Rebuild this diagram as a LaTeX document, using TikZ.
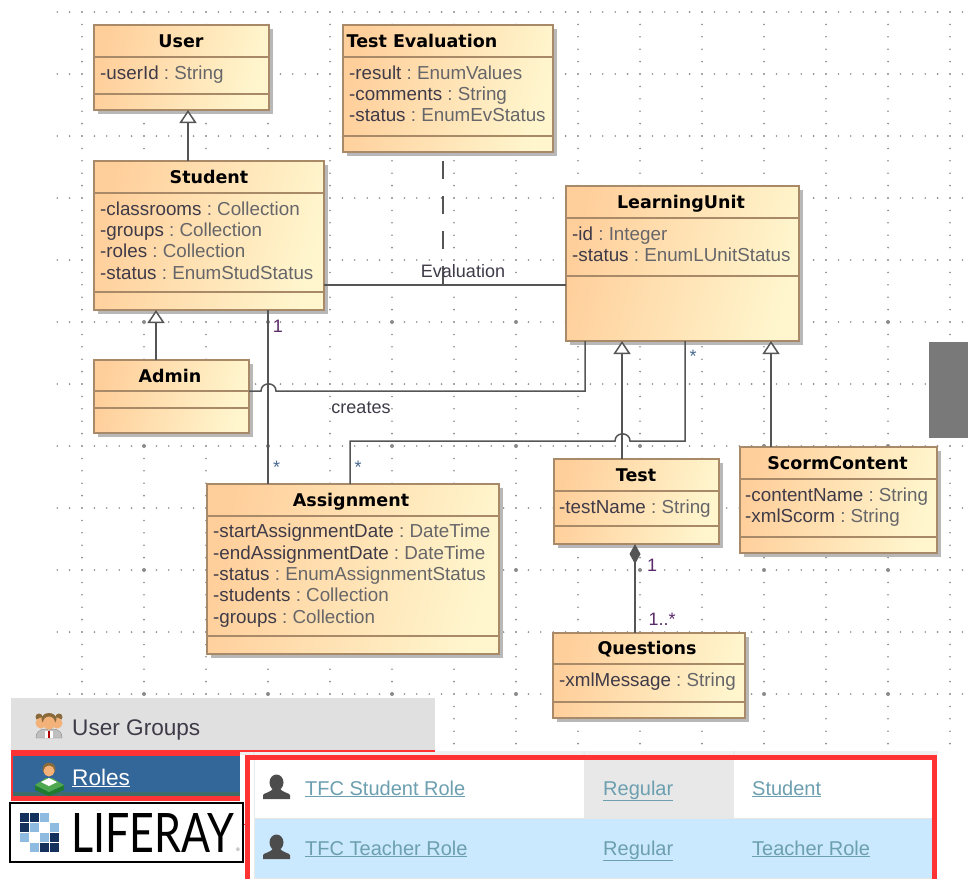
\documentclass[tikz,border=0pt]{standalone}
\usepackage{fontspec}
\usepackage{graphicx}
\setmainfont{Liberation Sans}
\newfontfamily\titlefont{DejaVu Sans Bold}
\newfontfamily\logofont{Lato}
\usetikzlibrary{arrows.meta,shadows,calc}
\definecolor{gradL}{HTML}{FFCF9B}
\definecolor{gradR}{HTML}{FFF6CE}
\definecolor{boxline}{HTML}{A98A68}
\definecolor{shadowc}{HTML}{B8B8B8}
\definecolor{linec}{HTML}{555555}
\definecolor{dotc}{HTML}{8A8A8A}
\definecolor{namec}{HTML}{3E3A48}
\definecolor{typec}{HTML}{66666A}
\definecolor{linkc}{HTML}{6C9FB0}
\definecolor{redf}{HTML}{FF3333}
\definecolor{bluerow}{HTML}{CAE9FF}
\definecolor{rolesblue}{HTML}{336699}
\definecolor{rolesgreen}{HTML}{3F6B6B}
\definecolor{navy}{HTML}{14305C}
\definecolor{lblue}{HTML}{8FBBE0}
\definecolor{multc}{HTML}{5A2A6A}
\definecolor{starc}{HTML}{4A6A90}
\definecolor{skin}{HTML}{F2B27A}
\definecolor{hair}{HTML}{8A6A3A}
\definecolor{deskg}{HTML}{4FA84F}
\definecolor{deskd}{HTML}{1F7A2F}
\tikzset{
  x=1pt,y=-1pt,
  umlbox/.style={draw=boxline,line width=1.8pt,inner sep=0pt,outer sep=0pt,left color=gradL,right color=gradR,shading angle=76,
    drop shadow={shadow xshift=4pt,shadow yshift=-4pt,fill=shadowc,opacity=1}},
  titletext/.style={inner sep=0pt,font=\titlefont\fontsize{17.5}{20}\selectfont,text=black,anchor=base},
  attrtext/.style={inner sep=0pt,font=\fontsize{18.8}{20}\selectfont,anchor=base west,text=namec},
  lbl/.style={inner sep=0pt,font=\fontsize{18}{20}\selectfont,anchor=base,text=namec},
  multlbl/.style={lbl,text=multc},
  starlbl/.style={lbl,text=starc},
  conn/.style={draw=linec,line width=1.5pt},
  gener/.style={conn,-{Triangle[open,length=13pt,width=17pt,line width=1.5pt,fill=white]}},
  comp/.style={conn,{Diamond[length=20pt,width=11pt,fill=linec]}-},
  linktext/.style={inner sep=0pt,font=\fontsize{20}{22}\selectfont,anchor=base west,text=linkc},
  paneltext/.style={inner sep=0pt,font=\fontsize{22.6}{24}\selectfont,anchor=base west},
  ppl/.style={fill=black!70}
}
\newcommand{\umlb}[7]{% name x1 y1 x2 y2 sep1 sep2
  \node[umlbox,minimum width=#4pt-#2pt,minimum height=#5pt-#3pt,anchor=north west] (#1) at (#2,#3) {};
  \draw[draw=boxline,line width=1.5pt] (#2,#6) -- (#4,#6) (#2,#7) -- (#4,#7);
}
\newcommand{\ttl}[4]{\node[titletext] (#1) at (#2,#3) {#4};}
\newcommand{\attr}[5]{\node[attrtext] (#1) at (#2,#3) {#4\textcolor{typec}{\ :\ #5}};}
\newcommand{\person}[2]{%
  \fill[ppl] (#1,#2-8.5) ellipse (7 and 8);
  \fill[ppl] (#1-13.5,#2+8) -- (#1-13.5,#2+4) .. controls (#1-13.5,#2+2) and (#1-6,#2+2) .. (#1-3,#2-3) -- (#1+3,#2-3) .. controls (#1+6,#2+2) and (#1+13.5,#2+2) .. (#1+13.5,#2+4) -- (#1+13.5,#2+8) -- cycle;
}
\begin{document}
\begin{tikzpicture}
\useasboundingbox (0,0) rectangle (968,879);
\fill[white] (0,0) rectangle (968,879);
% grid
\foreach \r in {12,74,136,198,260,322,384,446,508,570,632,694}{
  \foreach \i in {-27,...,46}{\fill[dotc] (392+12.4*\i,\r) circle (0.9);}
}
\foreach \c in {82,144,206,268,330,392,454,516,578,640,702,764,826,888,950}{
  \foreach \j in {-25,...,34}{\fill[dotc] (\c,322+12.4*\j) circle (0.9);}
}
\foreach \c in {144,268,392,516,640,764,888}{
  \foreach \r in {322,446,570,694}{\fill[dotc] (\c,\r) circle (2);}
}
% gray block
\fill[gray!95!black] (929,342) rectangle (968,438);
% boxes
\umlb{user}{94}{25}{269}{110}{57}{94}
\umlb{student}{94}{161}{324}{310}{193}{292}
\umlb{evalbox}{343}{25}{553}{152}{57}{136}
\umlb{lunit}{566}{186}{799}{341}{218}{276}
\umlb{admin}{94}{360}{249}{433}{391}{408}
\umlb{assign}{207}{484}{499}{654}{516}{636}
\umlb{test}{554}{459}{719}{544}{491}{526}
\umlb{scorm}{740}{447}{937}{553}{479}{537}
\umlb{quest}{553}{633}{745}{718}{664}{702}
\ttl{tUser}{181}{47}{User}
\ttl{tStudent}{209}{183}{Student}
\ttl{tEval}{422}{47}{Test Evaluation}
\ttl{tLU}{681}{208}{LearningUnit}
\ttl{tAdmin}{170}{382}{Admin}
\ttl{tAssign}{351}{506}{Assignment}
\ttl{tTest}{636}{481}{Test}
\ttl{tScorm}{837.5}{469}{ScormContent}
\ttl{tQuest}{647}{654}{Questions}
\attr{a1}{100}{79}{-userId}{String}
\attr{a2}{100}{215}{-classrooms}{Collection}
\attr{a3}{100}{236}{-groups}{Collection}
\attr{a4}{100}{257}{-roles}{Collection}
\attr{a5}{100}{279}{-status}{EnumStudStatus}
\attr{a6}{349}{79}{-result}{EnumValues}
\attr{a7}{349}{100}{-comments}{String}
\attr{a8}{349}{121}{-status}{EnumEvStatus}
\attr{a9}{572}{240}{-id}{Integer}
\attr{a10}{572}{261}{-status}{EnumLUnitStatus}
\attr{a11}{213}{537}{-startAssignmentDate}{DateTime}
\attr{a12}{213}{559}{-endAssignmentDate}{DateTime}
\attr{a13}{213}{580}{-status}{EnumAssignmentStatus}
\attr{a14}{213}{601}{-students}{Collection}
\attr{a15}{213}{623}{-groups}{Collection}
\attr{a16}{559}{513}{-testName}{String}
\attr{a17}{745}{501}{-contentName}{String}
\attr{a18}{745}{522}{-xmlScorm}{String}
\attr{a19}{559}{686}{-xmlMessage}{String}
% connectors
\coordinate (evalend) at (443,285);
\draw[gener] ([xshift=94pt]student.north west) -- ([xshift=94pt]user.south west);
\draw[gener] ([xshift=62pt]admin.north west) -- ([xshift=62pt]student.south west);
\draw[conn] ([yshift=25pt]student.south east) -- ([yshift=56pt]lunit.south west);
\draw[conn,dash pattern=on 18pt off 17pt,dash phase=26pt] ([xshift=100pt]evalbox.south west) -- (evalend);
\draw[conn] ([xshift=174pt]student.south west) -- ([xshift=61pt]assign.north west);
\draw[conn] ([yshift=5.5pt]admin.east) -- (261,391) .. controls (261,381.5) and (276,381.5) .. (276,391) -- (585,391) -- ([xshift=19pt]lunit.south west);
\draw[conn] ([xshift=119pt]lunit.south west) -- (685,441) -- (630,441) .. controls (630,431.5) and (615,431.5) .. (615,441) -- (350,441) -- ([xshift=143pt]assign.north west);
\draw[gener] ([xshift=68pt]test.north west) -- ([xshift=56pt]lunit.south west);
\draw[gener] ([xshift=31pt]scorm.north west) -- ([xshift=205pt]lunit.south west);
\draw[comp] ([xshift=81pt]test.south west) -- ([xshift=82pt]quest.north west);
% labels
\node[lbl] (lEval) at (463,277) {Evaluation};
\node[lbl] (lCreates) at (361,413) {creates};
\node[multlbl] (m1) at (278,332) {1};
\node[starlbl] (m2) at (276.5,473) {*};
\node[starlbl] (m3) at (358,473) {*};
\node[starlbl] (m4) at (693,362) {*};
\node[multlbl] (m5) at (652,571) {1};
\node[multlbl] (m6) at (662,625) {1..*};
% lower panels
\fill[white] (240,751) rectangle (938,879);
\fill[black!6] (240,751) rectangle (938,755);
\fill[black!10] (253.5,751) rectangle (254.5,755) (583.5,751) rectangle (584.5,755) (733.5,751) rectangle (734.5,755);
\fill[white] (0,750) rectangle (11,879) (0,697) rectangle (11,750) (11,697) rectangle (435,698);
\fill[black!12] (11,698) rectangle (435,750);
\fill[redf] (11,750) rectangle (435,751.5);
\fill[redf] (11,750) rectangle (240,801);
\fill[rolesblue] (13,756) rectangle (240,792);
\fill[rolesgreen] (13,792) rectangle (240,796);
\fill[redf] (243,823.5) rectangle (246,825);
% table rows
\fill[black!9] (584,760) rectangle (734,818);
\fill[bluerow] (254,819) rectangle (932,878);
\fill[black!10] (254,818) rectangle (932,819.3);
\fill[black!10] (254,877.5) rectangle (932,879);
\fill[black!8] (253.5,755) rectangle (254.5,879);
\fill[redf] (245,755) rectangle (937,760);
\fill[redf] (245,755) rectangle (250,879);
\fill[redf] (932,755) rectangle (937,879);
\person{276.5}{791}
\person{276.5}{851}
\node[linktext] (r1) at (305,795) {\underline{TFC Student Role}};
\node[linktext] (r2) at (603,795) {\underline{Regular}};
\node[linktext] (r3) at (752,795) {\underline{Student}};
\node[linktext] (r4) at (305,855) {\underline{TFC Teacher Role}};
\node[linktext] (r5) at (603,855) {\underline{Regular}};
\node[linktext] (r6) at (752,855) {\underline{Teacher Role}};
% user groups
\node[paneltext,text=namec] (pUG) at (72,735) {User Groups};
\fill[black!25,draw=black!45] (36,738) .. controls (36,728) and (46,728) .. (49,730) .. controls (52,728) and (62,728) .. (62,738) -- cycle;
\fill[hair] (39,717) circle (3.5) (59,717) circle (3.5);
\fill[skin] (41,723) circle (5.5) (57,723) circle (5.5);
\fill[hair] (49,719) ellipse (7.5 and 6);
\fill[skin] (49,723) ellipse (6 and 6.5);
\fill[white] (45,731) rectangle (53,738);
\fill[red!70!black] (48,731) rectangle (50,738);
% roles
\node[paneltext,text=white] (pR) at (72,785) {\underline{Roles}};
\fill[hair] (49,769) circle (6.5);
\fill[skin] (49,771) circle (5.5);
\fill[deskd] (35,785) -- (49,792) -- (64,785) -- (64,790) -- (49,796) -- (35,790) -- cycle;
\fill[deskg] (35,785) -- (46,778) -- (52,778) -- (64,785) -- (49,792) -- cycle;
\fill[white] (41,782) -- (49,778) -- (57,782) -- (49,786) -- cycle;
% Liferay
\fill[white,draw=black,line width=2pt] (10,803) rectangle (243,862);
\foreach \cx/\cy/\cc in {0/0/navy,1/0/navy,2/0/lblue,0/1/navy,1/1/lblue,3/1/lblue,0/2/lblue,2/2/lblue,3/2/navy,1/3/lblue,2/3/navy,3/3/navy}{
  \fill[\cc] (19.5+10*\cx,813+10*\cy) rectangle ++(9.3,9.3);
}
\node[inner sep=0pt,anchor=base west,text=black] (logo) at (71,852) {\resizebox{163pt}{39pt}{\logofont LIFERAY}};
\node[inner sep=0pt,text=black!60,font=\fontsize{5}{6}\selectfont] (logoR) at (238,850) {®};
\end{tikzpicture}
\end{document}
